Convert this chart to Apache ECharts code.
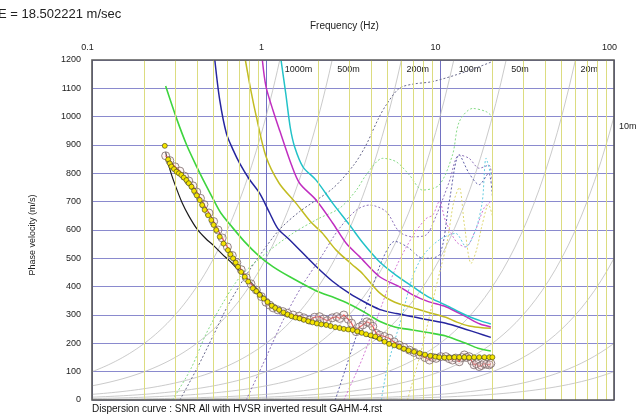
<!DOCTYPE html>
<html><head><meta charset="utf-8">
<script src="https://cdn.jsdelivr.net/npm/echarts@6/dist/echarts.min.js"></script>
<style>html,body{margin:0;padding:0;background:#fff}#c{width:637px;height:419px}</style>
</head><body><div id="c"></div>
<script>
// ---- axis / grid values ----
const xTickLabels = [0.1, 1, 10, 100];
const freqMinor = [0.2,0.3,0.4,0.5,0.6,0.7,0.8,0.9,2,3,4,5,6,7,8,9,20,30,40,50,60,70,80,90];
const velMax = 1200;
const wavelengths = [1000, 500, 200, 100, 50, 20, 10, 5, 2, 1];
const wavelengthLabels = ['1000m','500m','200m','100m','50m','20m','10m','','',''];

// ---- picked (smoothed) dispersion, yellow points ----
const obsF = [0.262,0.274,0.28,0.286,0.296,0.306,0.316,0.326,0.337,0.349,0.36,0.373,0.386,0.40,0.416,0.43,0.444,0.465,0.485,0.50,0.518,0.542,0.57,0.604,0.625,0.647,0.67,0.69,0.72,0.755,0.79,0.84,0.88,0.92,0.97,1.02,1.08,1.13,1.19,1.26,1.33,1.4,1.48,1.56,1.65,1.75,1.85,1.96,2.08,2.22,2.35,2.5,2.65,2.8,2.97,3.15,3.35,3.55,3.76,4.0,4.25,4.5,4.8,5.1,5.45,5.83,6.2,6.6,7.1,7.64,8.2,8.8,9.4,9.9,10.6,11.3,12.1,12.9,13.8,14.7,15.7,16.8,18,19.2,20];
const obsV = [897,849,835,824,815,806,800,794,785,776,765,753,738,722,706,688,671,652,635,618,600,576,552,529,514,500,485,470,452,435,418,394,384,371,358,346,333,325,318,309,302,296,291,288,283,278,274,270,267,265,261,257,254,251,249,247,242,237,232,228,224,216,206,198,193,188,181,175,170,165,160,156,153,151,150,150,151,151,151,150,151,151,151,151,151];

// ---- raw observed dispersion, red line with circles ----
const rawF = [0.265,0.28,0.30,0.32,0.34,0.36,0.38,0.40,0.42,0.44,0.47,0.50,0.53,0.56,0.60,0.64,0.68,0.72,0.77,0.82,0.88,0.94,1.0,1.05,1.1,1.17,1.25,1.33,1.43,1.55,1.65,1.78,1.9,2.03,2.15,2.25,2.4,2.55,2.65,2.8,2.97,3.1,3.3,3.45,3.6,3.8,3.95,4.11,4.3,4.49,4.8,5.1,5.45,5.83,6.2,6.67,7.1,7.64,8.2,8.7,9.1,9.5,10.1,10.8,11.3,11.8,12.3,12.9,13.4,13.8,14.2,14.7,15.2,15.7,16.2,16.8,17.3,17.9,18.5,19.2,19.6];
const rawV = [862,845,823,808,790,773,756,734,712,690,660,630,600,572,540,510,485,460,432,410,388,365,345,335,325,318,312,306,300,296,290,282,292,294,286,280,290,294,288,300,285,271,241,258,265,276,271,260,235,229,224,218,205,194,186,176,168,159,150,141,150,147,153,153,146,141,148,135,150,159,150,153,138,124,128,118,122,129,126,124,129];

// ---- theoretical fundamental mode (black) ----
const thF = [0.265,0.28,0.30,0.33,0.36,0.40,0.45,0.50,0.56,0.62,0.68,0.75,0.82,0.90,1.0,1.1,1.25,1.4,1.6,1.95,2.5,3.0,3.5,4.0,4.7,5.8,7,8,9,10,12,15,20];
const thV = [875,815,760,695,650,605,570,545,515,490,465,440,415,388,355,330,307,292,282,271,258,247,235,222,208,185,168,160,155,152,150,149,149];

// ---- higher modes (solid coloured) ----
const greenF = [0.265,0.306,0.35,0.40,0.45,0.50,0.55,0.62,0.75,0.92,1.1,1.37,1.95,2.5,3.02,3.8,4.49,5.5,6.97,8.5,10.8,12.5,14.1,16.5,19.6];
const greenV = [1108,994,900,823,760,706,660,620,560,506,470,435,385,360,338,305,278,258,247,238,226,212,200,183,173];
const blueF = [0.508,0.542,0.592,0.65,0.706,0.8,0.92,1.05,1.17,1.37,1.95,2.4,3.02,3.7,4.49,5.6,6.97,8.5,10.8,14,16.5,19.6];
const blueV = [1200,1059,941,880,835,780,729,660,605,565,470,420,376,345,320,305,294,283,271,250,236,221];
const oliveF = [0.761,0.82,0.88,1.0,1.19,1.49,1.8,2.1,2.53,3.1,3.6,4.5,5.5,6.97,8.5,10.8,12.5,14.7,17,19.6];
const oliveV = [1200,1090,1000,859,765,694,630,590,529,480,445,378,345,326,310,292,275,261,256,253];
const magentaF = [0.953,1.0,1.1,1.2,1.4,1.56,1.94,2.42,2.89,3.45,4.5,5.83,6.97,8.5,10.8,14,17,19.6];
const magentaV = [1200,1106,1020,950,830,765,706,624,553,506,435,400,371,348,329,295,268,258];
const cyanF = [1.22,1.3,1.38,1.46,1.63,1.94,2.42,3.02,3.6,4.49,5.6,6.97,8.5,10.8,14,17,19.6];
const cyanV = [1200,1080,960,894,823,776,694,618,555,488,440,400,365,335,300,280,268];

// ---- dotted curves ----
const dotGrayF = [0.32,0.4,0.5,0.6,0.75,0.92,1.19,1.56,2.42,3.2,3.76,4.4,4.9,5.83,7,9.08,14.1,19.9];
const dotGrayV = [0,110,230,330,430,510,600,665,747,830,900,990,1041,1100,1115,1124,1159,1194];
const dotGreenF = [0.29,0.37,0.45,0.55,0.7,0.92,1.4,2.0,2.65,3.3,3.76,4.69,5.6,6.67,7.95,9.9,11.8,12.9,15.4,18.4,20];
const dotGreenV = [0,110,230,330,430,500,585,640,677,740,794,853,841,794,741,759,865,982,1029,1018,1000];
const dotPurpleF = [0.77,1.0,1.25,1.6,2.1,2.6,3.3,3.93,4.9,5.83,6.97,8.3,9.5,11.3,12.9,14.7,16.8,19.1,20];
const dotPurpleV = [0,150,280,400,510,600,670,688,665,594,576,582,650,770,865,853,818,829,760];
const dotMagentaF = [2.8,3.6,4.6,5.6,7,8.3,9.1,9.9,10.8,12.4,14,16,18,19.6];
const dotMagentaV = [0,150,330,470,580,640,653,700,629,559,540,600,680,700];
const dotCyanF = [4.6,5,6,6.97,8,9.9,12.3,14.1,16,17.5,18.4,19.6];
const dotCyanV = [0,120,290,435,510,565,588,541,600,700,853,794];
const dotYellowF = [6.5,8,9.5,11,12,12.9,13.8,15.1,16.2,17.5,19,20];
const dotYellowV = [0,200,400,560,700,750,620,482,529,620,690,650];
const dotNavyF = [2.5,3.2,4.0,4.7,5.5,6.5,8,9.9,11.3,12.9,14.7,16.8,19,20];
const dotNavyV = [0,200,380,500,560,540,500,512,700,865,800,760,800,720];

const FONT = 'Liberation Sans, Arial, sans-serif';
function pairs(f, v) { return f.map((x, i) => [x, v[i]]); }

const chart = echarts.init(document.getElementById('c'), null, {renderer: 'canvas'});
const series = [];

// minor vertical grid lines (yellow)
series.push({
  type: 'line', data: [], silent: true, z: 1,
  markLine: {
    symbol: ['none', 'none'], silent: true, animation: false,
    label: {show: false},
    lineStyle: {color: '#dcdc80', width: 1, type: 'solid'},
    data: freqMinor.map(x => ({xAxis: x}))
  }
});

// constant-wavelength guide lines v = f * lambda
wavelengths.forEach((lam, i) => {
  const fmax = Math.min(100, velMax / lam);
  const pts = [];
  const n = 80;
  for (let k = 0; k <= n; k++) {
    const f = Math.pow(10, -1 + (Math.log10(fmax) + 1) * k / n);
    pts.push([f, f * lam]);
  }
  series.push({
    type: 'line', data: pts, symbol: 'none', silent: true, z: 2,
    lineStyle: {color: '#bcbcbc', width: 0.8},
    endLabel: {show: !!wavelengthLabels[i], formatter: wavelengthLabels[i], offset: [-3, 10],
      fontSize: 9, color: '#222', fontFamily: FONT}
  });
});

function dotted(f, v, color) {
  series.push({type: 'line', data: pairs(f, v), symbol: 'none', smooth: 0.3, silent: true, z: 3,
    lineStyle: {color: color, width: 1, type: [2, 2]}});
}
dotted(dotGrayF, dotGrayV, '#6a6a8c');
dotted(dotGreenF, dotGreenV, '#86da86');
dotted(dotPurpleF, dotPurpleV, '#8c70b8');
dotted(dotMagentaF, dotMagentaV, '#d478d4');
dotted(dotCyanF, dotCyanV, '#66cce0');
dotted(dotYellowF, dotYellowV, '#dcd670');
dotted(dotNavyF, dotNavyV, '#6060a8');

function mode(f, v, color, w) {
  series.push({type: 'line', data: pairs(f, v), symbol: 'none', smooth: 0.3, silent: true, z: 4,
    lineStyle: {color: color, width: w}});
}
mode(greenF, greenV, '#3ed43e', 1.6);
mode(blueF, blueV, '#26269e', 1.5);
mode(oliveF, oliveV, '#c2bc22', 1.5);
mode(magentaF, magentaV, '#c02ec0', 1.5);
mode(cyanF, cyanV, '#22c2c8', 1.5);
mode(thF, thV, '#1c1c1c', 1.2);

// raw observed (red line, hollow circles)
series.push({
  type: 'line', data: pairs(rawF, rawV), z: 6, showAllSymbol: true,
  symbol: 'circle', symbolSize: 8,
  itemStyle: {color: 'rgba(255,220,220,0.25)', borderColor: '#7a6a6a', borderWidth: 0.8},
  lineStyle: {color: '#e02828', width: 1.2}
});
// picked (yellow points)
series.push({
  type: 'scatter', data: pairs(obsF, obsV), z: 7,
  symbol: 'circle', symbolSize: 5,
  itemStyle: {color: '#f4e400', borderColor: '#3a3a1a', borderWidth: 0.6, opacity: 1}
});

chart.setOption({
  animation: false,
  backgroundColor: '#fff',
  textStyle: {fontFamily: FONT},
  grid: {left: 92, top: 60, width: 522, height: 340, show: false, containLabel: false, outerBoundsMode: 'none'},
  xAxis: {
    type: 'log', logBase: 10, min: 0.1, max: 100, position: 'top',
    axisLine: {show: false}, axisTick: {show: false},
    axisLabel: {fontSize: 9, color: '#222', margin: 8, padding: [0, 9, 0, 0], fontFamily: FONT,
      formatter: v => { const r = +(+v).toPrecision(3); return xTickLabels.indexOf(r) >= 0 ? String(r) : ''; }},
    splitLine: {show: true, lineStyle: {color: '#7272c2', width: 1}}
  },
  yAxis: {
    type: 'value', min: 0, max: 1200, interval: 100,
    axisLine: {show: false}, axisTick: {show: false},
    axisLabel: {fontSize: 9, color: '#222', margin: 11, fontFamily: FONT, formatter: v => String(v)},
    splitLine: {show: true, lineStyle: {color: '#8a8ace', width: 1}}
  },
  graphic: [
    {type: 'rect', z: 100, silent: true, shape: {x: 92, y: 60, width: 522, height: 340},
      style: {fill: null, stroke: '#595959', lineWidth: 1.6}},
    {type: 'text', left: -2, top: 8, style: {text: 'E = 18.502221 m/sec', fontSize: 13, fill: '#222', fontFamily: FONT}},
    {type: 'text', left: 310, top: 21, style: {text: 'Frequency (Hz)', fontSize: 10, fill: '#222', fontFamily: FONT}},
    {type: 'text', left: 92, top: 404, style: {text: 'Dispersion curve : SNR All with HVSR inverted result GAHM-4.rst', fontSize: 10, fill: '#111', fontFamily: FONT}},
    {type: 'text', x: 33, y: 235, rotation: Math.PI / 2,
      style: {text: 'Phase velocity (m/s)', fontSize: 9, fill: '#222', fontFamily: FONT, align: 'center', verticalAlign: 'middle'}}
  ],
  series: series
});
</script>
</body></html>
